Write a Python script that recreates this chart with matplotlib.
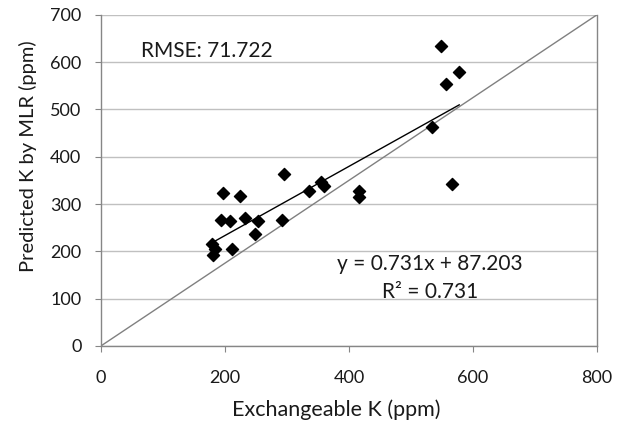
import matplotlib.pyplot as plt
import numpy as np

plt.rcParams['font.family'] = ['Lato', 'DejaVu Sans']

# measured vs predicted K (ppm)
exch_k = [197, 224, 295, 335, 355, 360, 417, 417, 194, 208, 233, 254, 292,
          249, 179, 184, 181, 212, 548, 578, 556, 534, 566]
pred_k = [323, 317, 363, 328, 346, 338, 328, 314, 266, 264, 271, 264, 267,
          237, 215, 206, 192, 204, 635, 580, 554, 463, 343]

slope = 0.731
intercept = 87.203
x_ticks = [0, 200, 400, 600, 800]
y_ticks = [0, 100, 200, 300, 400, 500, 600, 700]

fig = plt.figure(figsize=(6.23, 4.25), dpi=100)
ax = fig.add_axes([0.162, 0.186, 0.796, 0.779])

# diagonal of the plot area
ax.plot([0, 800], [0, 700], color='#808080', lw=1.0, zorder=2)

# trendline
xx = np.array([min(exch_k), max(exch_k)])
ax.plot(xx, slope * xx + intercept, color='black', lw=1.0, zorder=3)

ax.scatter(exch_k, pred_k, marker='D', s=38, color='black', zorder=4)

ax.set_xlim(0, 800)
ax.set_ylim(0, 700)
ax.set_xticks(x_ticks)
ax.set_yticks(y_ticks)
ax.yaxis.grid(True, color='#c0c0c0', lw=1.0)
ax.set_axisbelow(True)
for s in ax.spines.values():
    s.set_color('#868686')
    s.set_linewidth(1.0)
ax.spines['top'].set_visible(False)
ax.tick_params(direction='out', length=4, color='#868686', labelsize=13,
               labelcolor='#1a1a1a')
ax.tick_params(axis='x', pad=13)
ax.tick_params(axis='y', pad=10)

ax.set_xlabel('Exchangeable K (ppm)', fontsize=15.5, color='#1a1a1a')
ax.xaxis.set_label_coords(0.474, -0.16)
ax.set_ylabel('Predicted K by MLR (ppm)', fontsize=14.5, color='#1a1a1a')
ax.yaxis.set_label_coords(-0.129, 0.574)

ax.text(64, 611, 'RMSE: 71.722', fontsize=15, va='baseline', ha='left',
        color='#1a1a1a')
ax.text(531, 161, 'y = 0.731x + 87.203', fontsize=15, va='baseline',
        ha='center', color='#1a1a1a')
ax.text(531, 102, 'R² = 0.731', fontsize=15, va='baseline', ha='center',
        color='#1a1a1a')

fig.savefig('out.png', dpi=100)
